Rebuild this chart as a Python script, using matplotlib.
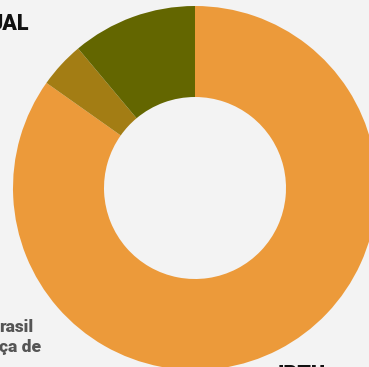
import matplotlib.pyplot as plt

plt.rcParams['font.family'] = ['Roboto', 'DejaVu Sans']

# shares of the donut (clockwise from 12 o'clock)
categories = ['IPTU', 'Outros', 'Anual']
values = [84.8, 4.1, 11.1]
colors = ['#EC9A3A', '#A37D14', '#636600']

fig = plt.figure(figsize=(3.69, 3.67), dpi=100, facecolor='#F3F3F3')
ax = fig.add_axes([0, 0, 1, 1])
ax.set_facecolor('#F3F3F3')
ax.axis('off')

ax.pie(values, colors=colors, startangle=90, counterclock=False,
       center=(195, 179), radius=182,
       wedgeprops=dict(width=91, edgecolor='none'))
ax.set_xlim(0, 369)
ax.set_ylim(0, 367)
ax.set_aspect('equal')

# labels (partially outside the visible area)
ax.text(29, 337, 'UAL', ha='right', va='baseline', fontsize=15.5,
        fontweight='heavy', color='#111111')
ax.text(-1, 35, 'rasil', ha='left', va='baseline', fontsize=12.5,
        fontweight='heavy', color='#555555')
ax.text(-1, 15, 'ça de', ha='left', va='baseline', fontsize=12.5,
        fontweight='heavy', color='#555555')
ax.text(278, -14, 'IPTU', ha='left', va='baseline', fontsize=15.5,
        fontweight='heavy', color='#111111', clip_on=False)

fig.savefig('out.png', dpi=100, facecolor=fig.get_facecolor())
